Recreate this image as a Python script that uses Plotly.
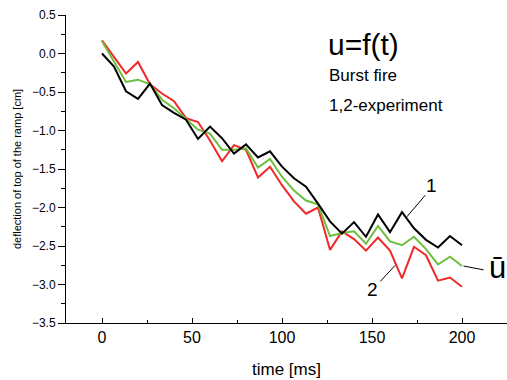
import plotly.graph_objects as go

t = [i * 200 / 30 for i in range(31)]
exp1 = [0.0, -0.17, -0.49, -0.59, -0.39, -0.67, -0.77, -0.86, -1.11, -0.95,
        -1.10, -1.30, -1.18, -1.35, -1.27, -1.47, -1.62, -1.73, -1.95, -2.18,
        -2.34, -2.19, -2.38, -2.09, -2.32, -2.06, -2.27, -2.42, -2.52, -2.37, -2.49]
exp2 = [0.17, -0.04, -0.26, -0.11, -0.40, -0.52, -0.62, -0.84, -0.89, -1.13,
        -1.40, -1.19, -1.25, -1.61, -1.47, -1.71, -1.92, -2.08, -2.00, -2.55,
        -2.31, -2.41, -2.56, -2.39, -2.56, -2.92, -2.51, -2.62, -2.95, -2.91, -3.03]
mean = [0.16, -0.10, -0.37, -0.34, -0.40, -0.60, -0.71, -0.85, -0.99, -1.04,
        -1.25, -1.25, -1.23, -1.48, -1.37, -1.60, -1.78, -1.91, -1.96, -2.37,
        -2.33, -2.31, -2.47, -2.24, -2.44, -2.49, -2.38, -2.54, -2.74, -2.64, -2.76]

FONT = "Arial, Liberation Sans, sans-serif"

fig = go.Figure()
fig.add_trace(go.Scatter(x=t, y=exp2, mode="lines", line=dict(color="#f02828", width=2)))
fig.add_trace(go.Scatter(x=t, y=mean, mode="lines", line=dict(color="#6cbf3c", width=2)))
fig.add_trace(go.Scatter(x=t, y=exp1, mode="lines", line=dict(color="black", width=2)))

# leader lines
for (x0, y0, x1, y1) in [(179.6, -1.84, 169.4, -2.12),
                         (154.6, -2.96, 162.9, -2.75),
                         (200.9, -2.76, 212.0, -2.81)]:
    fig.add_shape(type="line", x0=x0, y0=y0, x1=x1, y1=y1, xref="x", yref="y",
                  line=dict(color="black", width=1))

annots = [
    dict(x=183, y=-1.71, text="1", size=19),
    dict(x=150.2, y=-3.07, text="2", size=19),
    dict(x=219.5, y=-2.78, text="ū", size=31),
]
for a in annots:
    fig.add_annotation(x=a["x"], y=a["y"], text=a["text"], showarrow=False,
                       xref="x", yref="y", font=dict(size=a["size"], color="black", family=FONT))

fig.add_annotation(x=124.5, y=0.12, text="u=f(t)", showarrow=False, xanchor="left",
                   font=dict(size=30, color="black", family=FONT))
fig.add_annotation(x=125, y=-0.28, text="Burst fire", showarrow=False, xanchor="left",
                   font=dict(size=17, color="black", family=FONT))
fig.add_annotation(x=125, y=-0.68, text="1,2-experiment", showarrow=False, xanchor="left",
                   font=dict(size=17, color="black", family=FONT))

fig.update_layout(
    width=507, height=380,
    margin=dict(l=66, r=0, t=15, b=57),
    paper_bgcolor="white", plot_bgcolor="white",
    showlegend=False,
    font=dict(family=FONT, color="black"),
    xaxis=dict(range=[-20, 225], tickvals=[0, 50, 100, 150, 200],
               ticks="inside", ticklen=5, tickwidth=1, tickcolor="black",
               minor=dict(dtick=25, tick0=0, ticks="inside", ticklen=3, tickcolor="black"),
               showline=True, linecolor="black", linewidth=1, showgrid=False, zeroline=False,
               tickfont=dict(size=16),
               title=dict(text="time [ms]", font=dict(size=17), standoff=17)),
    yaxis=dict(range=[-3.5, 0.5], dtick=0.5, tickformat=".1f",
               ticks="outside", ticklen=7, tickwidth=1, tickcolor="black",
               minor=dict(dtick=0.25, ticks="outside", ticklen=4, tickcolor="black"),
               showline=True, linecolor="black", linewidth=1, showgrid=False, zeroline=False,
               tickfont=dict(size=12),
               title=dict(text="deflection of top of the ramp [cm]", font=dict(size=11), standoff=8)),
)

fig.write_html("out.html")
